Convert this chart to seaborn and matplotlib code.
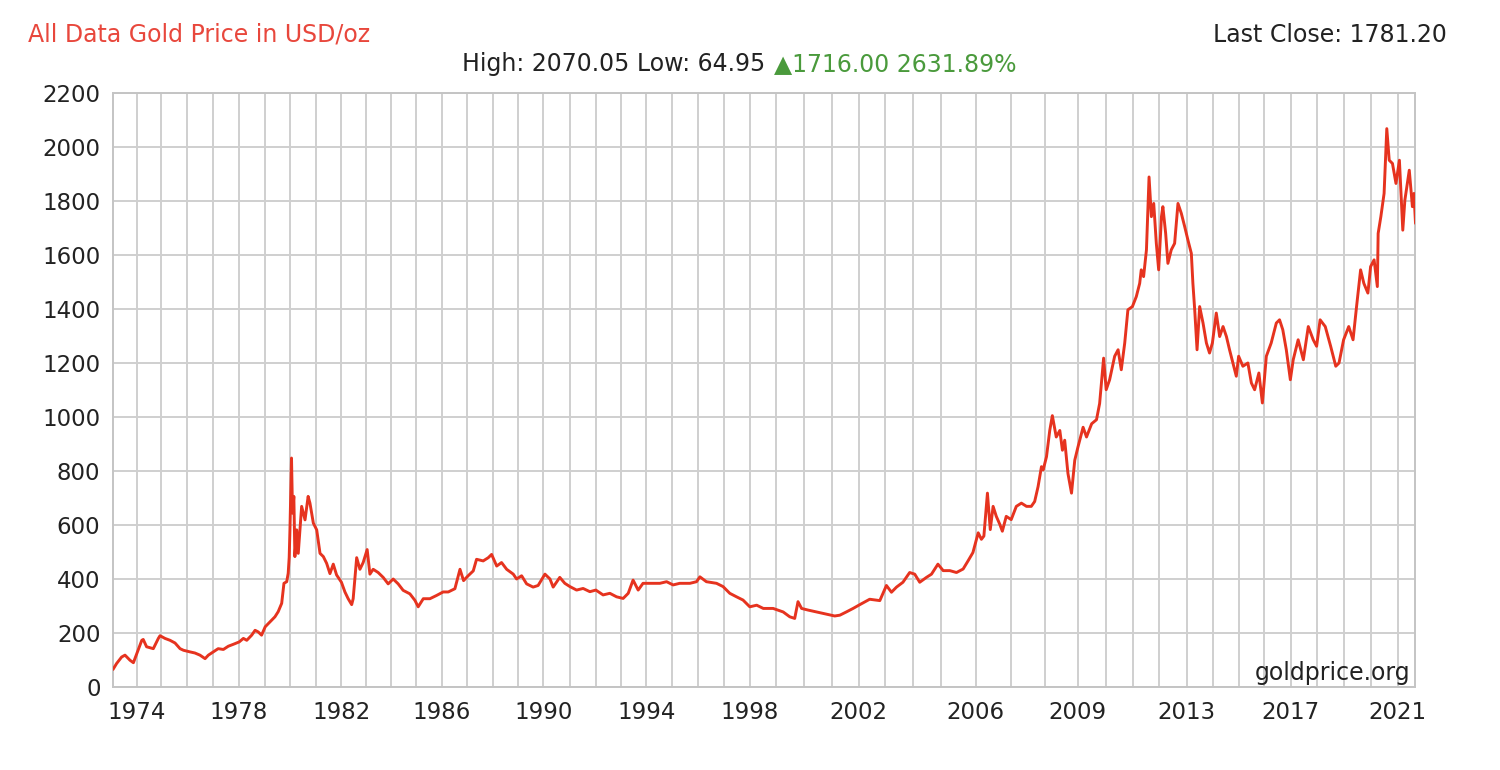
import numpy as np
import pandas as pd
import matplotlib
matplotlib.use("Agg")
import matplotlib.pyplot as plt
import seaborn as sns

# ---- data ----
years = [
    1973.00, 1973.15, 1973.36, 1973.50, 1973.71, 1973.85, 1974.20, 1974.26, 1974.40, 1974.68,
    1974.89, 1974.96, 1975.15, 1975.34, 1975.53, 1975.72, 1975.85, 1976.10, 1976.29, 1976.49,
    1976.69, 1976.82, 1977.01, 1977.20, 1977.40, 1977.59, 1977.78, 1978.01, 1978.17, 1978.30,
    1978.49, 1978.62, 1978.74, 1978.87, 1979.01, 1979.20, 1979.40, 1979.53, 1979.67, 1979.76,
    1979.87, 1979.93, 1979.97, 1980.00, 1980.06, 1980.10, 1980.15, 1980.19, 1980.26, 1980.32,
    1980.45, 1980.58, 1980.70, 1980.77, 1980.90, 1981.03, 1981.16, 1981.29, 1981.42, 1981.55,
    1981.68, 1981.81, 1982.00, 1982.14, 1982.27, 1982.41, 1982.47, 1982.61, 1982.74, 1982.87,
    1983.03, 1983.14, 1983.27, 1983.47, 1983.67, 1983.87, 1984.07, 1984.27, 1984.47, 1984.74,
    1984.94, 1985.07, 1985.27, 1985.53, 1985.79, 1986.05, 1986.25, 1986.51, 1986.71, 1986.85,
    1987.03, 1987.23, 1987.36, 1987.62, 1987.82, 1987.95, 1988.15, 1988.34, 1988.54, 1988.80,
    1988.93, 1989.13, 1989.33, 1989.59, 1989.79, 1990.06, 1990.25, 1990.37, 1990.62, 1990.81,
    1991.00, 1991.26, 1991.51, 1991.77, 1992.00, 1992.29, 1992.56, 1992.83, 1993.09, 1993.29,
    1993.48, 1993.68, 1993.87, 1994.13, 1994.52, 1994.78, 1995.03, 1995.29, 1995.69, 1995.95,
    1996.08, 1996.33, 1996.72, 1996.97, 1997.23, 1997.49, 1997.74, 1998.00, 1998.26, 1998.51,
    1998.88, 1999.25, 1999.49, 1999.67, 1999.79, 1999.92, 2000.15, 2000.45, 2000.81, 2001.11,
    2001.30, 2001.54, 2001.79, 2002.04, 2002.42, 2002.81, 2003.06, 2003.24, 2003.42, 2003.65,
    2003.89, 2004.07, 2004.25, 2004.49, 2004.67, 2004.90, 2005.07, 2005.26, 2005.45, 2005.64,
    2005.78, 2005.92, 2006.07, 2006.16, 2006.23, 2006.33, 2006.41, 2006.49, 2006.58, 2006.68,
    2006.75, 2006.86, 2007.00, 2007.15, 2007.30, 2007.45, 2007.59, 2007.69, 2007.79, 2007.89,
    2007.94, 2008.04, 2008.14, 2008.22, 2008.34, 2008.45, 2008.53, 2008.60, 2008.70, 2008.81,
    2008.91, 2009.01, 2009.19, 2009.31, 2009.49, 2009.66, 2009.77, 2009.91, 2010.00, 2010.13,
    2010.32, 2010.45, 2010.57, 2010.70, 2010.82, 2010.99, 2011.14, 2011.27, 2011.33, 2011.42,
    2011.53, 2011.63, 2011.72, 2011.81, 2011.91, 2012.00, 2012.10, 2012.15, 2012.25, 2012.33,
    2012.45, 2012.57, 2012.69, 2012.81, 2012.93, 2013.05, 2013.18, 2013.24, 2013.31, 2013.40,
    2013.50, 2013.63, 2013.76, 2013.88, 2013.99, 2014.14, 2014.27, 2014.40, 2014.53, 2014.65,
    2014.78, 2014.91, 2015.00, 2015.17, 2015.37, 2015.51, 2015.64, 2015.81, 2015.95, 2016.10,
    2016.28, 2016.47, 2016.59, 2016.71, 2016.84, 2016.99, 2017.10, 2017.29, 2017.49, 2017.68,
    2017.87, 2018.00, 2018.13, 2018.32, 2018.52, 2018.71, 2018.83, 2019.00, 2019.19, 2019.35,
    2019.48, 2019.63, 2019.75, 2019.90, 2020.00, 2020.13, 2020.25, 2020.28, 2020.38, 2020.50,
    2020.60, 2020.69, 2020.81, 2020.94, 2021.07, 2021.20, 2021.28, 2021.45, 2021.57, 2021.63,
    2021.69,
]
prices = [
    65, 87, 111, 118, 99, 90, 173, 176, 149, 142,
    180, 190, 180, 173, 163, 142, 136, 130, 126, 118,
    105, 118, 130, 142, 139, 151, 158, 167, 180, 173,
    192, 210, 204, 192, 223, 241, 260, 279, 310, 384,
    390, 421, 480, 582, 848, 644, 706, 483, 582, 495,
    669, 619, 706, 681, 607, 582, 495, 483, 458, 420,
    455, 415, 388, 352, 327, 305, 327, 479, 436, 461,
    509, 418, 436, 424, 406, 382, 400, 382, 358, 345,
    321, 297, 327, 327, 339, 352, 352, 364, 436, 394,
    412, 430, 473, 467, 479, 491, 448, 461, 436, 418,
    400, 412, 382, 370, 376, 418, 400, 370, 406, 384,
    372, 359, 365, 353, 359, 341, 347, 334, 328, 347,
    396, 359, 384, 384, 384, 390, 378, 384, 384, 390,
    408, 390, 384, 372, 347, 334, 322, 297, 303, 291,
    291, 278, 260, 254, 316, 291, 285, 278, 270, 263,
    266, 278, 291, 305, 325, 320, 376, 351, 370, 388,
    424, 418, 388, 406, 418, 455, 431, 431, 424, 437,
    467, 498, 571, 547, 559, 718, 583, 669, 632, 602,
    577, 632, 620, 669, 681, 669, 669, 687, 742, 816,
    804, 853, 950, 1005, 926, 950, 877, 914, 791, 718,
    840, 889, 962, 926, 975, 990, 1050, 1218, 1101, 1138,
    1225, 1249, 1175, 1274, 1397, 1409, 1446, 1495, 1545, 1520,
    1619, 1889, 1742, 1791, 1643, 1545, 1742, 1779, 1680, 1569,
    1619, 1643, 1791, 1754, 1705, 1655, 1606, 1495, 1397, 1249,
    1409, 1348, 1274, 1237, 1274, 1385, 1298, 1335, 1298, 1249,
    1200, 1151, 1225, 1188, 1200, 1126, 1101, 1163, 1052, 1225,
    1274, 1348, 1360, 1323, 1249, 1138, 1212, 1286, 1212, 1335,
    1286, 1262, 1360, 1335, 1262, 1188, 1200, 1286, 1335, 1286,
    1409, 1545, 1495, 1459, 1557, 1582, 1483, 1680, 1742, 1828,
    2068, 1951, 1939, 1865, 1951, 1692, 1803, 1914, 1779, 1828,
    1717,
]
tick_years = [1974, 1978, 1982, 1986, 1990, 1994, 1998, 2002, 2006, 2009, 2013, 2017, 2021]
tick_labels = [str(y) for y in tick_years]
y_ticks = [0, 200, 400, 600, 800, 1000, 1200, 1400, 1600, 1800, 2000, 2200]

title_text = "All Data Gold Price in USD/oz"
stats_text = "High: 2070.05 Low: 64.95"
change_text = "\u25b21716.00 2631.89%"
last_close_text = "Last Close: 1781.20"
source_text = "goldprice.org"

# The source chart's time axis is not linear in years (it is spaced by data
# density); this scale maps each year boundary onto its relative spacing.
scale_years = list(range(1973, 2023))
scale_pos = [0, 24, 48, 74.5, 100, 126, 152, 177, 203, 228.5, 253.5, 278.5, 303.5,
             329, 354.5, 380, 405.5, 430.5, 457, 483, 508, 533.5, 559.5, 585, 611,
             637, 663.5, 691, 719, 746, 772, 800, 828, 863, 898.5, 932.5, 965,
             993.5, 1020, 1046, 1074, 1100, 1126, 1151, 1178, 1204, 1231, 1258,
             1285, 1311]

def fwd(x):
    return np.interp(x, scale_years, scale_pos, left=-1e-9, right=1311)

def inv(p):
    return np.interp(p, scale_pos, scale_years)

df = pd.DataFrame({"year": years, "price": prices})

sns.set_theme(style="white")
plt.rcParams["font.family"] = ["DejaVu Sans"]

fig = plt.figure(figsize=(15, 7.7), dpi=100)
ax = fig.add_axes([113 / 1500, 1 - 687 / 770, (1415 - 113) / 1500, (687 - 93) / 770])

sns.lineplot(data=df, x="year", y="price", ax=ax, color="#e6331f",
             linewidth=2.1, estimator=None, sort=False, zorder=3)

ax.set_xscale("function", functions=(fwd, inv))
ax.set_xlim(1973.0, years[-1] - 0.02)
ax.set_ylim(0, 2200)

ax.set_xticks(tick_years)
ax.set_xticklabels(tick_labels)
ax.set_xticks(list(range(1974, 2022)), minor=True)
ax.set_yticks(y_ticks)
ax.set_yticklabels([str(v) for v in y_ticks])

grid_c = "#cfcfcf"
ax.grid(True, which="both", axis="x", color=grid_c, linewidth=1.4, zorder=0)
ax.grid(True, which="major", axis="y", color=grid_c, linewidth=1.4, zorder=0)
ax.set_axisbelow(True)

for s in ax.spines.values():
    s.set_color("#c4c4c4")
    s.set_linewidth(1.4)

ax.tick_params(axis="x", which="major", length=7, width=1.2, color="#c4c4c4",
               labelsize=16.5, labelcolor="#222222", pad=3)
ax.tick_params(axis="x", which="minor", length=0)
ax.tick_params(axis="y", length=0, labelsize=16.5, labelcolor="#222222", pad=9)
ax.set_xlabel("")
ax.set_ylabel("")

fs = 17
fig.text(28 / 1500, 1 - 35 / 770, title_text, color="#e8473c", fontsize=fs,
         ha="left", va="center")
fig.text(1447 / 1500, 1 - 35 / 770, last_close_text, color="#222222", fontsize=fs,
         ha="right", va="center")
fig.text(765 / 1500, 1 - 64 / 770, stats_text, color="#222222", fontsize=fs,
         ha="right", va="center")
fig.text(774 / 1500, 1 - 64 / 770, change_text, color="#4a9a3c", fontsize=fs,
         ha="left", va="center")
fig.text(1410 / 1500, 1 - 673 / 770, source_text, color="#222222", fontsize=fs,
         ha="right", va="center")

fig.savefig("out.png", dpi=100, facecolor="white")
